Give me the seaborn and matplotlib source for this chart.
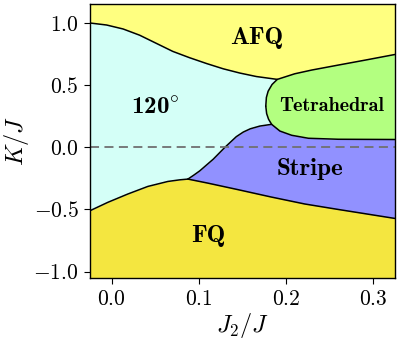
import numpy as np
import matplotlib
matplotlib.use("Agg")
import matplotlib.pyplot as plt
import seaborn as sns

# phase boundaries (J2/J, K/J)
afq_120_j2 = [-0.025, -0.006, 0.013, 0.032, 0.051, 0.070, 0.089, 0.109,
              0.128, 0.147, 0.166, 0.19]
afq_120_k = [0.998, 0.982, 0.950, 0.900, 0.835, 0.770, 0.720, 0.672,
             0.630, 0.596, 0.568, 0.545]

fq_120_j2 = [-0.025, -0.0046, 0.0184, 0.0414, 0.0644, 0.078, 0.0874]
fq_120_k = [-0.51, -0.443, -0.376, -0.315, -0.275, -0.262, -0.256]

fq_stripe_j2 = [0.0874, 0.110, 0.145, 0.183, 0.2215, 0.260, 0.325]
fq_stripe_k = [-0.256, -0.288, -0.341, -0.40, -0.456, -0.50, -0.572]

stripe_120_j2 = [0.0874, 0.094, 0.101, 0.1165, 0.130, 0.143, 0.151, 0.159,
                 0.170, 0.1835]
stripe_120_k = [-0.256, -0.225, -0.19, -0.096, 0.0, 0.085, 0.122, 0.148,
                0.170, 0.184]

# tetrahedral pocket: top edge (right -> tip) and bottom edge (tip -> right)
tetra_top_j2 = [0.325, 0.291, 0.260, 0.2295, 0.210, 0.19, 0.184, 0.1795,
                0.1775, 0.1768]
tetra_top_k = [0.745, 0.70, 0.66, 0.62, 0.59, 0.545, 0.504, 0.45, 0.40,
               0.33]
tetra_bot_j2 = [0.1768, 0.1778, 0.180, 0.1835, 0.193, 0.2065, 0.2257, 0.260,
                0.325]
tetra_bot_k = [0.33, 0.27, 0.225, 0.184, 0.13, 0.096, 0.072, 0.064, 0.062]

labels = ["AFQ", r"120$^{\circ}$", "Tetrahedral", "Stripe", "FQ"]
label_j2 = [0.167, 0.05, 0.253, 0.228, 0.111]
label_k = [0.88, 0.32, 0.33, -0.176, -0.71]
label_size = [18, 18, 14.5, 18, 18]

c_afq = "#ffff80"
c_120 = "#d4fff7"
c_tet = "#b3ff80"
c_str = "#9191ff"
c_fq = "#f4e640"

sns.set_theme(style="ticks")
plt.rcParams["font.family"] = ["cmr10", "DejaVu Serif"]
plt.rcParams["mathtext.fontset"] = "cm"
plt.rcParams["axes.formatter.use_mathtext"] = True
plt.rcParams["text.color"] = "black"
plt.rcParams["axes.labelcolor"] = "black"
plt.rcParams["xtick.color"] = "black"
plt.rcParams["ytick.color"] = "black"

fig = plt.figure(figsize=(3.99, 3.41), dpi=100)
ax = fig.add_axes([0.2256, 0.185, 0.764, 0.803])

xlo, xhi = -0.025, 0.325
ylo, yhi = -1.05, 1.15

ax.set_facecolor(c_120)

# AFQ above the top boundary
top_j2 = afq_120_j2 + tetra_top_j2[:5][::-1]
top_k = afq_120_k + tetra_top_k[:5][::-1]
ax.fill_between(top_j2, top_k, yhi + 0.1, color=c_afq, lw=0)

# stripe below 120 / tetrahedral boundary
s_j2 = stripe_120_j2 + tetra_bot_j2[4:]
s_k = stripe_120_k + tetra_bot_k[4:]
ax.fill_between(s_j2, ylo - 0.1, s_k, color=c_str, lw=0)

# FQ at the bottom
low_j2 = fq_120_j2 + fq_stripe_j2[1:]
low_k = fq_120_k + fq_stripe_k[1:]
ax.fill_between(low_j2, ylo - 0.1, low_k, color=c_fq, lw=0)

# tetrahedral pocket
tet_j2 = tetra_top_j2 + tetra_bot_j2[1:]
tet_k = tetra_top_k + tetra_bot_k[1:]
ax.fill(tet_j2, tet_k, color=c_tet, lw=0)

# boundary lines
for xs, ys in [(afq_120_j2, afq_120_k), (fq_120_j2, fq_120_k),
               (fq_stripe_j2, fq_stripe_k), (stripe_120_j2, stripe_120_k),
               (tetra_top_j2, tetra_top_k), (tetra_bot_j2, tetra_bot_k)]:
    sns.lineplot(x=xs, y=ys, sort=False, color="black", lw=1.1, ax=ax,
                 estimator=None)

ax.axhline(0, color="#707070", lw=1.3, ls=(0, (5, 3)))

for t, x, y, s in zip(labels, label_j2, label_k, label_size):
    ax.text(x, y, t, fontsize=s, ha="center", va="center",
            family=["cmb10", "DejaVu Serif"], fontweight="bold")

ax.set_xlim(xlo, xhi)
ax.set_ylim(ylo, yhi)
ax.set_xticks([0.0, 0.1, 0.2, 0.3])
ax.set_yticks([-1.0, -0.5, 0.0, 0.5, 1.0])
ax.tick_params(labelsize=15.5, length=4, width=0.8, color="black", pad=4)
for sp in ax.spines.values():
    sp.set_color("black")
    sp.set_linewidth(1.0)
ax.set_xlabel(r"$J_2/J$", fontsize=17.5, labelpad=2)
ax.set_ylabel(r"$K/J$", fontsize=17.5, labelpad=2)

fig.savefig("out.png", dpi=100)
